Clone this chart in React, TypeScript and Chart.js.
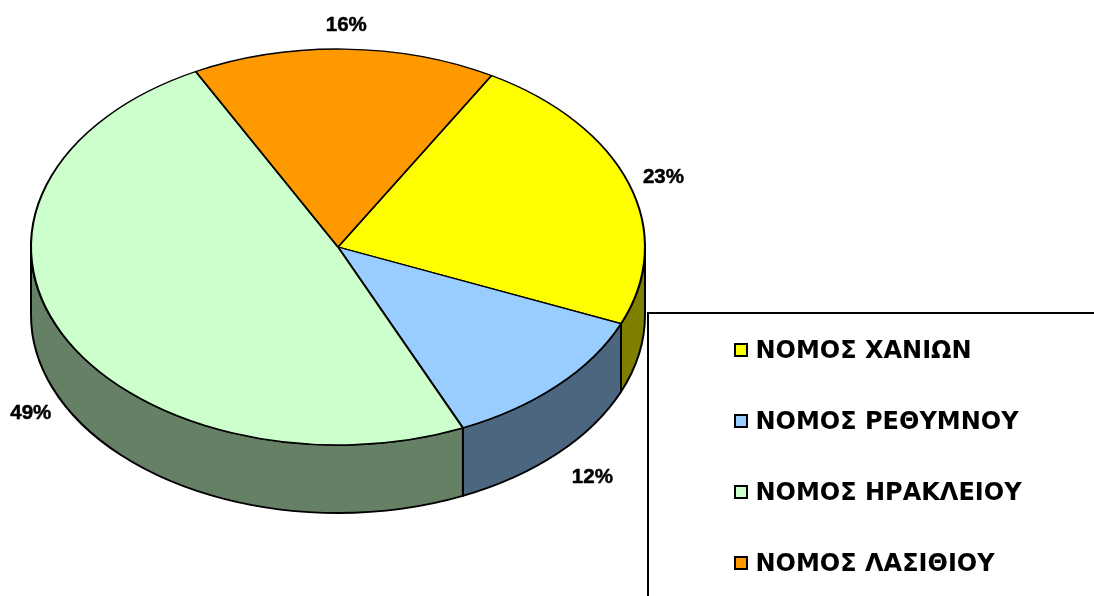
import React, { useEffect, useRef } from "react";
import { Chart, registerables } from "chart.js";

Chart.register(...registerables);

const categories = ["ΝΟΜΟΣ ΧΑΝΙΩΝ", "ΝΟΜΟΣ ΡΕΘΥΜΝΟΥ", "ΝΟΜΟΣ ΗΡΑΚΛΕΙΟΥ", "ΝΟΜΟΣ ΛΑΣΙΘΙΟΥ"];
const shares = [23, 12, 49, 16];
const topColors = ["#FFFF00", "#99CCFF", "#CCFFCC", "#FF9900"];
const sideColors = ["#808000", "#4D6680", "#668066", "#804D00"];
const labelReach = [1.115, 1.155, 1.115, 1.126];

const CX = 338;
const CY = 247;
const RX = 307;
const RY = 198;
const DEPTH = 68;

function legendSwatch(color: string) {
  const c = document.createElement("canvas");
  c.width = 14;
  c.height = 18;
  const g = c.getContext("2d") as CanvasRenderingContext2D;
  g.fillStyle = color;
  g.fillRect(1, 1, 12, 12);
  g.strokeStyle = "#000";
  g.lineWidth = 2;
  g.strokeRect(1, 1, 12, 12);
  return c;
}

const piePlugin = {
  id: "tiltedPie",
  afterLayout(chart: any) {
    const l = chart.legend;
    if (!l) return;
    const pad = l.options.labels.padding;
    l.left = 738.5 - pad;
    l.right = 1094;
    l.width = 1094 - l.left;
    l.top = 340 - pad;
    l.bottom = 2000;
    l.height = 2000 - l.top;
  },
  beforeDraw(chart: any) {
    const ctx = chart.ctx;
    ctx.save();
    ctx.strokeStyle = "#000";
    ctx.lineWidth = 2;
    ctx.beginPath();
    ctx.moveTo(648, 596);
    ctx.lineTo(648, 313);
    ctx.lineTo(1094, 313);
    ctx.stroke();
    ctx.restore();
  },
  beforeDatasetsDraw(chart: any) {
    const ctx = chart.ctx;
    const arcs = chart.getDatasetMeta(0).data;
    ctx.save();
    ctx.lineWidth = 2;
    ctx.strokeStyle = "#000";
    ctx.lineJoin = "round";
    arcs.forEach((a: any, i: number) => {
      const p = a.getProps(["startAngle", "endAngle"], true);
      for (const shift of [0, Math.PI * 2, -Math.PI * 2]) {
        const s = Math.max(p.startAngle + shift, 0);
        const e = Math.min(p.endAngle + shift, Math.PI);
        if (e <= s) continue;
        ctx.beginPath();
        ctx.ellipse(CX, CY, RX, RY, 0, s, e);
        ctx.ellipse(CX, CY + DEPTH, RX, RY, 0, e, s, true);
        ctx.closePath();
        ctx.fillStyle = sideColors[i];
        ctx.fill();
        ctx.stroke();
      }
    });
    ctx.restore();
    const first = arcs[0];
    const R = first.outerRadius;
    ctx.save();
    ctx.translate(CX, CY);
    ctx.scale(RX / R, RY / R);
    ctx.translate(-first.x, -first.y);
  },
  afterDatasetsDraw(chart: any) {
    const ctx = chart.ctx;
    ctx.restore();
    const arcs = chart.getDatasetMeta(0).data;
    ctx.save();
    ctx.font = "bold 20.5px 'Liberation Sans'";
    ctx.fillStyle = "#000";
    ctx.strokeStyle = "#000";
    ctx.lineWidth = 0.5;
    ctx.textAlign = "center";
    ctx.textBaseline = "middle";
    arcs.forEach((a: any, i: number) => {
      const p = a.getProps(["startAngle", "endAngle"], true);
      const mid = (p.startAngle + p.endAngle) / 2;
      const k = labelReach[i];
      const x = CX + RX * k * Math.cos(mid) + 1;
      const sin = Math.sin(mid);
      const y = CY + RY * k * sin + (sin > 0 ? DEPTH + 1 : 0) + 1;
      ctx.fillText(shares[i] + "%", x, y);
      ctx.strokeText(shares[i] + "%", x, y);
    });
    ctx.restore();
  },
};

export default function App() {
  const ref = useRef<HTMLCanvasElement>(null);
  useEffect(() => {
    const swatches = topColors.map(legendSwatch);
    const chart = new Chart(ref.current as HTMLCanvasElement, {
      type: "pie",
      data: {
        labels: categories,
        datasets: [
          {
            data: shares,
            backgroundColor: topColors,
            borderColor: "#000",
            borderWidth: 2,
            clip: false,
          } as any,
        ],
      },
      options: {
        responsive: false,
        animation: false,
        rotation: 30,
        layout: { padding: 0 },
        plugins: {
          tooltip: { enabled: false },
          legend: {
            display: true,
            position: "right",
            align: "start",
            labels: {
              usePointStyle: true,
              boxWidth: 5,
              boxHeight: 14,
              padding: 47,
              color: "#000",
              font: { family: "'DejaVu Sans'", weight: "bold", size: 24 },
              generateLabels(c: any) {
                return (Chart as any).overrides.pie.plugins.legend.labels
                  .generateLabels(c)
                  .map((item: any, i: number) => ({ ...item, pointStyle: swatches[i] }));
              },
            },
          },
        },
      } as any,
      plugins: [piePlugin as any],
    });
    return () => chart.destroy();
  }, []);
  return (
    <div style={{ position: "fixed", left: 0, top: 0, width: 1094, height: 596, background: "#fff" }}>
      <canvas ref={ref} width={1094} height={596} style={{ display: "block" }} />
    </div>
  );
}
